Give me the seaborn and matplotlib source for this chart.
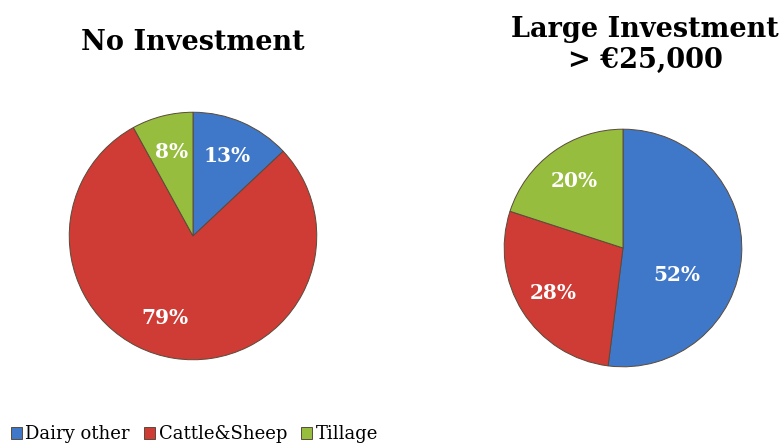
import matplotlib
matplotlib.use("Agg")
import matplotlib.pyplot as plt
import seaborn as sns

# data
categories = ["Dairy other", "Cattle&Sheep", "Tillage"]
no_investment = [13, 79, 8]
large_investment = [52, 28, 20]
titles = ["No Investment", "Large Investment\n> \u20ac25,000"]

colors = ["#3f78c8", "#cf3b35", "#97bd3e"]
edge = "#5a4a3a"

sns.set_theme(style="white")
plt.rcParams["font.family"] = ["DejaVu Serif"]
plt.rcParams["text.color"] = "black"

fig = plt.figure(figsize=(7.82, 4.43), dpi=100)
W, H = 782, 443


def pie_axes(cx, cy, r):
    return fig.add_axes([(cx - r) / W, 1 - (cy + r) / H, 2 * r / W, 2 * r / H])


def draw(ax, values, pctdist):
    wedges, texts, autotexts = ax.pie(
        values, colors=colors, startangle=90, counterclock=False,
        autopct=lambda p: f"{p:.0f}%", pctdistance=pctdist,
        wedgeprops=dict(edgecolor=edge, linewidth=0.7),
        textprops=dict(color="white", fontsize=14.5, fontweight="bold"))
    ax.set_xlim(-1.01, 1.01)
    ax.set_ylim(-1.01, 1.01)
    ax.set_aspect("equal")
    return wedges, autotexts


ax1 = pie_axes(193, 236, 125)
wedges, at1 = draw(ax1, no_investment, 0.7)
# the 79% label sits lower left of the wedge middle in the original
x, y = at1[1].get_position()
at1[1].set_position((x - 0.12, y + 0.03))

ax2 = pie_axes(623, 248, 120)
_, at2 = draw(ax2, large_investment, 0.7)
# the big blue label sits closer to the centre in the original
x, y = at2[0].get_position()
at2[0].set_position((x * 0.65, y * 0.65 - 0.2))

fig.text(193 / W, 1 - 42 / H, titles[0], ha="center", va="center",
         fontsize=19.5, fontweight="bold", color="black")
fig.text(645 / W, 1 - 45 / H, titles[1], ha="center", va="center",
         fontsize=19.5, fontweight="bold", linespacing=1.15, color="black")

leg = fig.legend(wedges, categories, loc="lower left", bbox_to_anchor=(0.0, -0.025),
                 ncol=3, frameon=False, fontsize=13, handlelength=0.6, handleheight=0.6,
                 handletextpad=0.2, columnspacing=0.8, borderaxespad=0.2)
for t in leg.get_texts():
    t.set_color("black")

fig.savefig("out.png", dpi=100)
